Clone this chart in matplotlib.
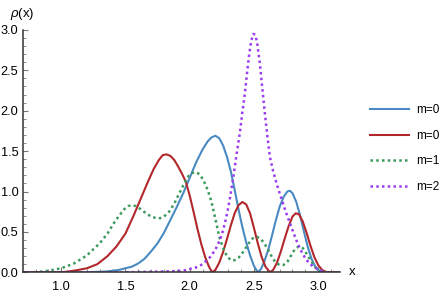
import numpy as np
import matplotlib.pyplot as plt

plt.rcParams['font.family'] = ['Liberation Sans', 'DejaVu Sans']
plt.rcParams['mathtext.fontset'] = 'custom'
plt.rcParams['mathtext.it'] = 'Liberation Sans:italic'
plt.rcParams['mathtext.rm'] = 'Liberation Sans'

# values
x_blue = [0.70, 1.20, 1.35, 1.45, 1.55, 1.60, 1.65, 1.70, 1.75, 1.80, 1.85, 1.90, 1.95, 2.00,
          2.05, 2.10, 2.14, 2.17, 2.20, 2.23, 2.26, 2.29, 2.32, 2.35, 2.38, 2.41, 2.44, 2.47,
          2.50, 2.53, 2.555, 2.58, 2.61, 2.64, 2.67, 2.70, 2.73, 2.76, 2.78, 2.80, 2.83,
          2.86, 2.89, 2.92, 2.95, 2.98, 3.01, 3.05, 3.17]
y_blue = [0.0, 0.0, 0.01, 0.03, 0.07, 0.11, 0.17, 0.26, 0.36, 0.49, 0.65, 0.81, 0.98, 1.17,
          1.36, 1.52, 1.62, 1.67, 1.69, 1.66, 1.57, 1.43, 1.25, 1.02, 0.78, 0.56, 0.37, 0.21,
          0.08, 0.0, 0.04, 0.13, 0.27, 0.45, 0.64, 0.81, 0.93, 1.00, 1.01, 0.98, 0.87,
          0.70, 0.50, 0.31, 0.16, 0.06, 0.01, 0.0, 0.0]

x_red = [0.70, 1.00, 1.10, 1.20, 1.28, 1.36, 1.43, 1.50, 1.56, 1.60, 1.64, 1.68, 1.72, 1.76,
         1.79, 1.82, 1.85, 1.88, 1.91, 1.94, 1.97, 2.00, 2.03, 2.06, 2.09, 2.12, 2.15, 2.175,
         2.20, 2.23, 2.26, 2.29, 2.32, 2.35, 2.38, 2.41, 2.44, 2.47, 2.50, 2.53, 2.56, 2.59,
         2.625, 2.65, 2.68, 2.71, 2.74, 2.77, 2.80, 2.825, 2.85, 2.88, 2.91, 2.94, 2.97,
         3.00, 3.03, 3.06, 3.10, 3.17]
y_red = [0.0, 0.0, 0.02, 0.05, 0.10, 0.20, 0.32, 0.48, 0.69, 0.84, 0.99, 1.14, 1.28, 1.39,
         1.45, 1.46, 1.44, 1.39, 1.31, 1.22, 1.12, 0.95, 0.75, 0.54, 0.35, 0.19, 0.07, 0.0,
         0.03, 0.12, 0.25, 0.41, 0.58, 0.73, 0.83, 0.87, 0.84, 0.73, 0.55, 0.36, 0.19, 0.07,
         0.0, 0.03, 0.12, 0.26, 0.42, 0.57, 0.69, 0.73, 0.72, 0.63, 0.49, 0.33, 0.19,
         0.09, 0.03, 0.005, 0.0, 0.0]

x_green = [0.70, 0.78, 0.85, 0.90, 1.00, 1.10, 1.20, 1.30, 1.36, 1.41, 1.45, 1.49, 1.52, 1.55,
           1.58, 1.62, 1.66, 1.70, 1.74, 1.77, 1.80, 1.84, 1.88, 1.92, 1.96, 1.99, 2.02, 2.05,
           2.08, 2.11, 2.14, 2.17, 2.20, 2.23, 2.26, 2.29, 2.32, 2.35, 2.38, 2.42, 2.46, 2.49,
           2.52, 2.55, 2.58, 2.61, 2.64, 2.67, 2.70, 2.73, 2.76, 2.79, 2.82, 2.85, 2.88,
           2.91, 2.94, 2.97, 3.00, 3.04, 3.17]
y_green = [0.0, 0.0, 0.01, 0.02, 0.05, 0.11, 0.21, 0.36, 0.48, 0.61, 0.70, 0.78, 0.82, 0.83,
           0.82, 0.78, 0.73, 0.69, 0.67, 0.67, 0.69, 0.75, 0.85, 0.98, 1.11, 1.19, 1.23, 1.24,
           1.21, 1.13, 1.02, 0.87, 0.66, 0.44, 0.30, 0.20, 0.15, 0.15, 0.18, 0.26, 0.36, 0.42,
           0.44, 0.42, 0.36, 0.28, 0.19, 0.12, 0.09, 0.09, 0.13, 0.21, 0.29, 0.32, 0.30,
           0.23, 0.15, 0.08, 0.03, 0.0, 0.0]

x_purple = [0.70, 1.50, 1.80, 1.95, 2.05, 2.10, 2.16, 2.20, 2.235, 2.26, 2.28, 2.30, 2.32,
            2.34, 2.365, 2.39, 2.41, 2.43, 2.45, 2.465, 2.48, 2.495, 2.51, 2.525, 2.546,
            2.565, 2.585, 2.605, 2.624, 2.65, 2.676, 2.70, 2.727, 2.75, 2.78, 2.81, 2.84,
            2.875, 2.91, 2.96, 3.01, 3.06, 3.17]
y_purple = [0.0, 0.0, 0.01, 0.02, 0.06, 0.10, 0.19, 0.28, 0.40, 0.52, 0.65, 0.80, 0.98,
            1.18, 1.46, 1.72, 1.98, 2.22, 2.52, 2.72, 2.87, 2.95, 2.94, 2.84, 2.59,
            2.28, 1.97, 1.68, 1.43, 1.25, 1.10, 0.98, 0.85, 0.74, 0.61, 0.48, 0.36,
            0.24, 0.15, 0.07, 0.03, 0.0, 0.0]

labels = ['m=0', 'm=0', 'm=1', 'm=2']

fig = plt.figure(figsize=(4.47, 3.0), dpi=100)
ax = fig.add_axes([0.0508, 0.0923, 0.7098, 0.8093])

dot = (0, (1, 1.3))
ax.plot(x_blue, y_blue, color='#4a8ac2', lw=1.5, label=labels[0])
ax.plot(x_red, y_red, color='#b2272b', lw=1.5, label=labels[1])
ax.plot(x_green, y_green, color='#3a9a5c', lw=1.8, ls=dot, label=labels[2])
ax.plot(x_purple, y_purple, color='#9b3cf0', lw=1.8, ls=dot, label=labels[3])

ax.set_xlim(0.70, 3.17)
ax.set_ylim(0, 3.005)
for s in ['top', 'right']:
    ax.spines[s].set_visible(False)
for s in ['left', 'bottom']:
    ax.spines[s].set_color('#333333')
    ax.spines[s].set_linewidth(1.1)

ax.set_xticks([1.0, 1.5, 2.0, 2.5, 3.0])
ax.set_xticks(np.arange(0.8, 3.15, 0.1), minor=True)
ax.set_yticks([0.0, 0.5, 1.0, 1.5, 2.0, 2.5, 3.0])
ax.set_yticks(np.arange(0.1, 3.0, 0.1), minor=True)
ax.xaxis.set_major_formatter(plt.FormatStrFormatter('%.1f'))
ax.yaxis.set_major_formatter(plt.FormatStrFormatter('%.1f'))
ax.tick_params(which='both', direction='in', colors='#777777', labelcolor='black', labelsize=9.2)
ax.tick_params(which='major', length=3.5, width=0.8)
ax.tick_params(which='minor', length=2, width=0.6)
ax.tick_params(axis='x', pad=6)
ax.tick_params(axis='y', pad=3)

fig.text(10 / 447, 1 - 14 / 300, r'$\rho$(x)', fontsize=9.5, ha='left', va='center')
fig.text(352 / 447, 1 - 272 / 300, 'x', fontsize=9.5, ha='center', va='center')

ax.legend(loc='center left', bbox_to_anchor=(370 / 447, 1 - 148.5 / 300),
          bbox_transform=fig.transFigure, frameon=False, fontsize=8.5,
          handlelength=3.3, handletextpad=0.6, labelspacing=1.15,
          borderpad=0, borderaxespad=0)

fig.savefig('out.png', dpi=100)
